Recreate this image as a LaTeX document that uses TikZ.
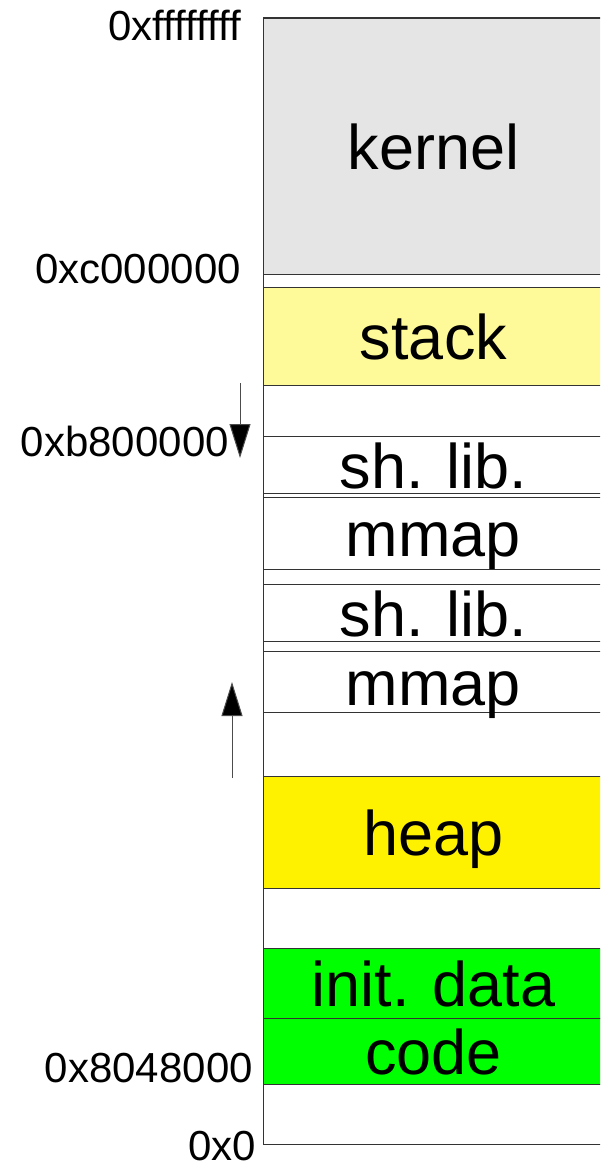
\documentclass[tikz,border=0pt]{standalone}
\usepackage{fontspec}
\setmainfont{Liberation Sans}
\usetikzlibrary{arrows.meta}

\tikzset{
  segment/.style={draw=black!80, line width=1pt, anchor=north west, inner sep=0pt,
    minimum width=340pt, text height=46pt, text depth=0pt,
    font=\fontsize{63}{70}\selectfont},
  addr/.style={anchor=east, inner sep=0pt, font=\fontsize{42}{48}\selectfont},
  growth/.style={line width=1pt, draw=black!70, -{Triangle[length=34pt,width=21pt,fill=black]}}
}

\begin{document}
\begin{tikzpicture}[x=1pt,y=-1pt]
	\useasboundingbox (0,0) rectangle (600,1164);
	\clip (0,0) rectangle (600,1164);
	
	% Address space column
	\draw[black!80, line width=1pt] (603,18) -- (263,18) -- (263,1144) -- (603,1144);
	
	% Memory segments, top to bottom
	\node[segment, fill=black!10, minimum height=256pt] (kernel) at (263,18) {kernel};
	\node[segment, fill=yellow!40, minimum height=98pt] (stack) at (263,287) {stack};
	\node[segment, minimum height=57pt] (shlibA) at (263,436) {sh. lib.};
	\node[segment, minimum height=72pt] (mmapA) at (263,497) {mmap};
	\node[segment, minimum height=57pt] (shlibB) at (263,584) {sh. lib.};
	\node[segment, minimum height=61pt] (mmapB) at (263,651) {mmap};
	\node[segment, fill=yellow, minimum height=112pt] (heap) at (263,776) {heap};
	\node[segment, fill=green, minimum height=70pt] (data) at (263,948) {init. data};
	\node[segment, fill=green, minimum height=66pt] (code) at (263,1018) {code};
	
	% Addresses
	\node[addr] (top) at (241,26) {0xffffffff};
	\node[addr] (kbase) at (241,269) {0xc000000};
	\node[addr] (mbase) at (229,441) {0xb800000};
	\node[addr] (cbase) at (253,1068) {0x8048000};
	\node[addr] (zero) at (256,1146) {0x0};
	
	% Growth directions
	\coordinate (stackfrom) at (240,383);
	\coordinate (stackto) at (240,458);
	\coordinate (heapfrom) at (232,778);
	\coordinate (heapto) at (232,682);
	\draw[growth] (stackfrom) -- (stackto);
	\draw[growth] (heapfrom) -- (heapto);
\end{tikzpicture}
\end{document}
